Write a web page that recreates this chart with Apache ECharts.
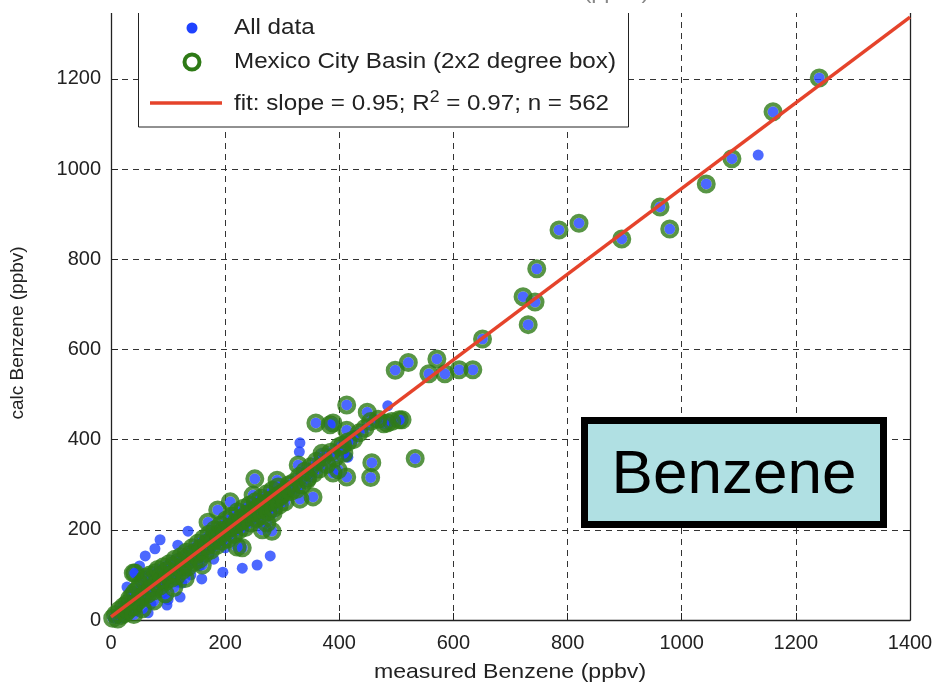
<!DOCTYPE html>
<html>
<head>
<meta charset="utf-8">
<script src="https://cdn.jsdelivr.net/npm/echarts@6/dist/echarts.min.js"></script>
<style>
  html, body { margin: 0; padding: 0; background: #fff; }
  #chart { width: 939px; height: 690px; }
</style>
</head>
<body>
<div id="chart"></div>
<script>
// 轴刻度
var xTicks = [0, 200, 400, 600, 800, 1000, 1200, 1400];
var yTicks = [0, 200, 400, 600, 800, 1000, 1200];

// Mexico City Basin 点 (绿色圆环, 也属于 All data)
var basinPoints = [
  [1241, 1202], [1160, 1127], [1088, 1023], [1043, 967], [962, 916], [979, 867],
  [895, 845], [820, 880], [785, 865], [746, 779], [722, 717], [743, 705], [731, 655],
  [651, 623], [571, 579], [521, 571], [498, 554], [557, 546], [585, 546], [610, 555],
  [634, 555], [510, 444], [533, 358], [505, 444], [484, 437], [449, 461], [413, 477],
  [389, 437], [359, 437], [384, 433], [457, 349], [455, 316], [331, 268], [354, 273],
  [328, 344], [343, 310], [398, 333], [413, 317], [389, 326], [370, 370], [406, 388],
  [413, 421], [252, 313], [249, 277], [291, 310], [296, 273], [282, 197], [273, 215],
  [284, 237], [170, 217], [187, 244], [209, 262], [221, 162], [230, 160], [265, 200],
  [42, 104], [39, 104]
];
// 沿拟合线的密集带
var bandPoints = [
  [3, 4], [8, 12], [12, 2], [15, 22], [18, 10], [22, 30], [25, 15], [28, 36], [30, 22],
  [33, 48], [36, 28], [38, 55], [40, 30], [42, 62], [45, 40], [48, 70], [50, 45], [52, 80],
  [55, 52], [58, 88], [60, 60], [62, 95], [65, 58], [68, 100], [70, 70], [72, 90], [75, 65],
  [78, 105], [80, 82], [82, 112], [85, 75], [88, 100], [90, 90], [92, 118], [95, 85],
  [98, 110], [100, 100], [102, 125], [105, 92], [108, 120], [110, 105], [112, 135],
  [115, 98], [118, 128], [120, 115], [122, 140], [125, 110], [128, 135], [130, 125],
  [132, 150], [135, 118], [138, 145], [140, 135], [142, 160], [145, 128], [148, 150],
  [150, 145], [152, 170], [155, 135], [158, 160], [160, 155], [162, 180], [165, 148],
  [168, 170], [170, 165], [172, 190], [175, 155], [178, 180], [180, 175], [182, 200],
  [185, 165], [188, 190], [190, 185], [192, 210], [195, 175], [198, 200], [200, 195],
  [202, 222], [205, 180], [208, 205], [210, 205], [212, 230], [215, 190], [218, 215],
  [220, 212], [222, 240], [225, 200], [228, 225], [230, 220], [232, 248], [235, 205],
  [238, 235], [240, 228], [243, 255], [245, 215], [248, 240], [250, 238], [253, 262],
  [255, 225], [258, 250], [260, 245], [263, 270], [265, 232], [268, 258], [270, 255],
  [273, 280], [275, 240], [278, 265], [280, 262], [283, 288], [285, 248], [288, 272],
  [290, 270], [293, 295], [295, 255], [298, 280], [300, 278], [305, 262], [308, 290],
  [312, 300], [315, 285], [320, 305], [325, 290], [330, 318], [335, 300], [340, 330],
  [345, 315], [350, 340], [355, 325], [360, 352], [365, 335], [372, 362], [378, 345],
  [385, 372], [392, 360], [400, 385], [408, 370], [415, 395], [425, 400], [435, 415],
  [445, 425], [455, 440], [468, 445], [478, 435], [492, 440],
  [40, 12], [55, 25], [75, 42], [95, 58], [110, 72], [130, 92], [160, 122]
];
// 仅 All data 的蓝点
var otherPoints = [
  [1134, 1031], [279, 142], [256, 122], [230, 115], [196, 106], [159, 91], [121, 51],
  [98, 33], [65, 16], [39, 22], [86, 178], [60, 142], [77, 158], [135, 197], [117, 166],
  [28, 73], [117, 84], [124, 82], [415, 361], [427, 410], [485, 475], [331, 393],
  [330, 373], [413, 362], [155, 120], [90, 60], [70, 35], [45, 20], [20, 5], [140, 100],
  [180, 135], [200, 160], [100, 45], [60, 100], [35, 60], [50, 120]
];
// 拟合线 slope = 0.95
var fitLine = [[0, 7], [1400, 1337]];

var ringPoints = basinPoints.concat(bandPoints);
var allPoints = ringPoints.concat(otherPoints);

var myChart = echarts.init(document.getElementById('chart'));
var font = 'Liberation Sans, Arial, sans-serif';
var yMax = 1375; // 顶部被裁切

var option = {
  animation: false,
  backgroundColor: '#fff',
  grid: { left: 111, right: 29, top: 0, bottom: 70 },
  xAxis: {
    type: 'value',
    min: xTicks[0],
    max: xTicks[xTicks.length - 1],
    interval: 200,
    axisLine: { lineStyle: { color: '#222', width: 1.3 } },
    axisTick: { inside: true, length: 7, lineStyle: { color: '#222' } },
    axisLabel: {
      fontSize: 20, color: '#222', fontFamily: font, margin: 13,
      formatter: function (v) { return String(v); }
    },
    splitLine: {
      show: true,
      lineStyle: { color: '#333', type: [6, 5], width: 1 }
    }
  },
  yAxis: [
    {
      type: 'value',
      min: 0,
      max: yMax,
      interval: 200,
      axisLine: { show: true, lineStyle: { color: '#222', width: 1.3 } },
      axisTick: { show: true, inside: true, length: 7, lineStyle: { color: '#222' } },
      axisLabel: {
        fontSize: 20, color: '#222', fontFamily: font, margin: 10,
        formatter: function (v) { return yTicks.indexOf(v) >= 0 ? String(v) : ''; }
      },
      splitLine: {
        show: true,
        lineStyle: { color: '#333', type: [6, 5], width: 1 }
      }
    },
    {
      type: 'value',
      position: 'right',
      min: 0,
      max: yMax,
      interval: 200,
      axisLine: { show: true, lineStyle: { color: '#222', width: 1.3 } },
      axisTick: { show: true, inside: true, length: 7, lineStyle: { color: '#222' } },
      axisLabel: { show: false },
      splitLine: { show: false }
    }
  ],
  series: [
    {
      name: 'All data',
      type: 'scatter',
      data: allPoints,
      symbolSize: 11,
      itemStyle: { color: '#1f42ff' },
      z: 2
    },
    {
      name: 'Mexico City Basin (2x2 degree box)',
      type: 'scatter',
      data: ringPoints,
      symbolSize: 15,
      itemStyle: { color: 'rgba(0,0,0,0)', borderColor: '#2e7a16', borderWidth: 4 },
      z: 3
    },
    {
      name: 'fit',
      type: 'line',
      data: fitLine,
      showSymbol: false,
      lineStyle: { color: '#e5432b', width: 3.5 },
      z: 4
    }
  ],
  graphic: [
    // 顶部被裁掉的区域 (上一张图的标题残留)
    {
      type: 'rect', z: 110,
      shape: { x: 0, y: 0, width: 939, height: 13 },
      style: { fill: '#fff' }
    },
    {
      type: 'text', z: 111, x: 513, y: 4, scaleX: 1.1,
      style: {
        text: 'measured Benzene (ppbv)', fill: '#888',
        font: '21px ' + font, textAlign: 'center', textVerticalAlign: 'bottom'
      }
    },
    // x 轴标题
    {
      type: 'text', z: 91, x: 510, y: 672, scaleX: 1.1,
      style: {
        text: 'measured Benzene (ppbv)', fill: '#222',
        font: '21px ' + font, textAlign: 'center', textVerticalAlign: 'middle'
      }
    },
    // 图例
    {
      type: 'rect', z: 100,
      shape: { x: 138.5, y: -5, width: 490, height: 132 },
      style: { fill: '#fff', stroke: '#222', lineWidth: 1 }
    },
    {
      type: 'circle', z: 101,
      shape: { cx: 192, cy: 28, r: 5.5 },
      style: { fill: '#1f42ff' }
    },
    {
      type: 'circle', z: 101,
      shape: { cx: 192, cy: 62, r: 7.5 },
      style: { fill: 'none', stroke: '#2e7a16', lineWidth: 4 }
    },
    {
      type: 'line', z: 101,
      shape: { x1: 150, y1: 103, x2: 222, y2: 103 },
      style: { stroke: '#e5432b', lineWidth: 3.5 }
    },
    {
      type: 'text', z: 101, x: 234, y: 28, scaleX: 1.1,
      style: { text: 'All data', fill: '#222', font: '22px ' + font, textVerticalAlign: 'middle' }
    },
    {
      type: 'text', z: 101, x: 234, y: 62, scaleX: 1.1,
      style: {
        text: 'Mexico City Basin (2x2 degree box)', fill: '#222',
        font: '22px ' + font, textVerticalAlign: 'middle'
      }
    },
    {
      type: 'text', z: 101, x: 234, y: 104, scaleX: 1.1,
      style: {
        text: 'fit: slope = 0.95; R{sup|2} = 0.97; n = 562', fill: '#222',
        font: '22px ' + font, textVerticalAlign: 'middle',
        rich: { sup: { fontSize: 16, padding: [0, 0, 13, 0], fill: '#222' } }
      }
    },
    // y 轴标题
    {
      type: 'text', z: 101, x: 18, y: 333, rotation: Math.PI / 2,
      style: {
        text: 'calc Benzene (ppbv)', fill: '#222', font: '19px ' + font,
        textAlign: 'center', textVerticalAlign: 'middle'
      }
    },
    // Benzene 标注框
    {
      type: 'rect', z: 100,
      shape: { x: 584.5, y: 420.5, width: 299, height: 104 },
      style: { fill: '#b0e0e3', stroke: '#000', lineWidth: 7 }
    },
    {
      type: 'text', z: 101, x: 734, y: 476,
      style: {
        text: 'Benzene', fill: '#000', font: '62px ' + font,
        textAlign: 'center', textVerticalAlign: 'middle'
      }
    }
  ]
};
myChart.setOption(option);
</script>
</body>
</html>
